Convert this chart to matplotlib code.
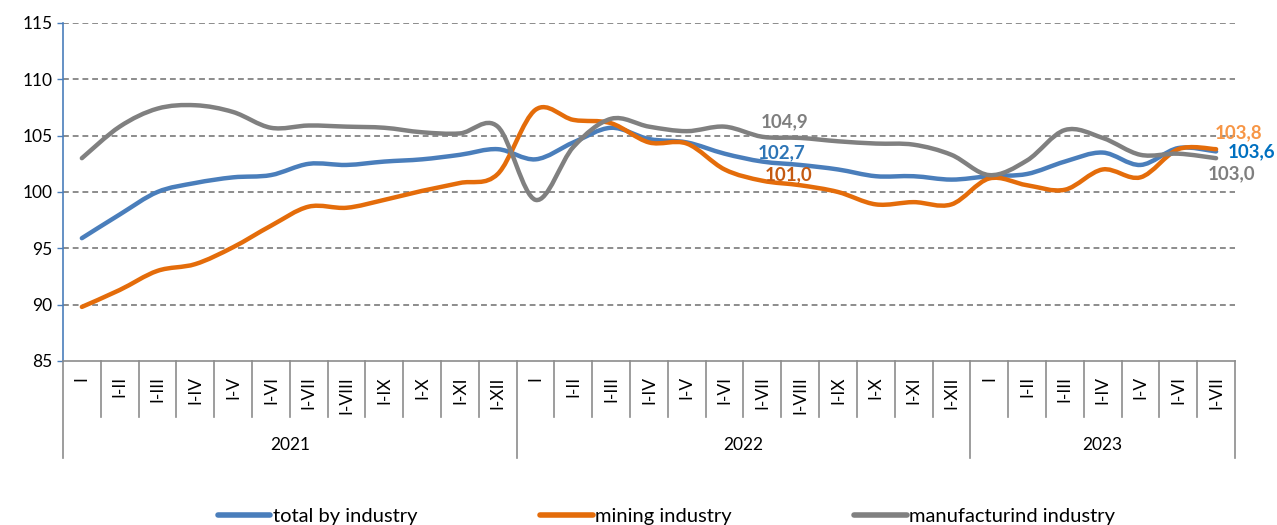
import numpy as np
import matplotlib.pyplot as plt
from matplotlib.path import Path
from matplotlib.patches import PathPatch
from matplotlib.lines import Line2D
import matplotlib.transforms as mtransforms

plt.rcParams['font.family'] = ['Lato', 'DejaVu Sans']

# DATA
months_2021 = ['I', 'I-II', 'I-III', 'I-IV', 'I-V', 'I-VI', 'I-VII', 'I-VIII', 'I-IX', 'I-X', 'I-XI', 'I-XII']
months_2022 = ['I', 'I-II', 'I-III', 'I-IV', 'I-V', 'I-VI', 'I-VII', 'I-VIII', 'I-IX', 'I-X', 'I-XI', 'I-XII']
months_2023 = ['I', 'I-II', 'I-III', 'I-IV', 'I-V', 'I-VI', 'I-VII']
years = ['2021', '2022', '2023']

total = [95.9, 98.0, 100.0, 100.8, 101.3, 101.5, 102.5, 102.4, 102.7, 102.9, 103.3, 103.8,
         102.9, 104.4, 105.7, 104.7, 104.4, 103.4, 102.7, 102.4, 102.0, 101.4, 101.4, 101.1,
         101.4, 101.6, 102.7, 103.5, 102.4, 103.9, 103.6]
mining = [89.8, 91.3, 93.0, 93.6, 95.1, 97.0, 98.7, 98.6, 99.3, 100.1, 100.8, 101.6,
          107.3, 106.4, 106.1, 104.4, 104.3, 102.0, 101.0, 100.6, 100.0, 98.9, 99.1, 98.9,
          101.2, 100.6, 100.2, 102.0, 101.3, 103.8, 103.8]
manuf = [103.0, 105.8, 107.4, 107.7, 107.1, 105.7, 105.9, 105.8, 105.7, 105.3, 105.2, 105.8,
         99.3, 104.0, 106.5, 105.8, 105.4, 105.8, 104.9, 104.8, 104.5, 104.3, 104.2, 103.3,
         101.5, 102.8, 105.5, 104.8, 103.3, 103.4, 103.0]

labels = months_2021 + months_2022 + months_2023
x = np.arange(len(labels))


# SMOOTH CURVE (EXCEL-LIKE BEZIER THROUGH THE POINTS)
def smooth_path(xs, ys):
    pts = np.column_stack([xs, ys]).astype(float)
    n = len(pts)
    verts = [pts[0]]
    codes = [Path.MOVETO]
    for i in range(n - 1):
        p0 = pts[i - 1] if i > 0 else pts[i]
        p1 = pts[i]
        p2 = pts[i + 1]
        p3 = pts[i + 2] if i + 2 < n else pts[i + 1]
        c1 = p1 + (p2 - p0) / 6.0
        c2 = p2 - (p3 - p1) / 6.0
        verts += [c1, c2, p2]
        codes += [Path.CURVE4] * 3
    return Path(verts, codes)


fig = plt.figure(figsize=(12.77, 5.25), dpi=100)
ax = fig.add_axes([0.0493, 0.3124, 0.9178, 0.6438])

c_total = '#4a7ebb'
c_mining = '#e46c0a'
c_manuf = '#808080'

for ys, col in [(total, c_total), (mining, c_mining), (manuf, c_manuf)]:
    ax.add_patch(PathPatch(smooth_path(x, ys), fill=False, edgecolor=col,
                           lw=3.2, capstyle='round', joinstyle='round', zorder=3))

ax.set_xlim(-0.5, len(labels) - 0.5)
ax.set_ylim(85, 115)
ax.set_yticks(np.arange(85, 116, 5))
for v in range(90, 116, 5):
    ax.axhline(v, color='#8c8c8c', lw=1.4, ls=(0, (3, 2)), zorder=1)

ax.tick_params(axis='y', labelsize=12.5, colors='#4a7ebb', length=4, width=1, labelcolor='black')
ax.set_xticks([])
for s in ['top', 'right']:
    ax.spines[s].set_visible(False)
ax.spines['left'].set_color('#4a7ebb')
ax.spines['left'].set_linewidth(1.2)
ax.spines['bottom'].set_color('#8c8c8c')
ax.spines['bottom'].set_linewidth(1.2)

# CATEGORY AXIS: MONTH + YEAR LEVELS
trans = mtransforms.blended_transform_factory(ax.transData, ax.transAxes)
month_drop = -0.166
year_drop = -0.287
year_bounds = [0, len(months_2021), len(months_2021) + len(months_2022), len(labels)]
for i in range(len(labels) + 1):
    b = i - 0.5
    bottom = year_drop if i in year_bounds else month_drop
    ax.plot([b, b], [0, bottom], transform=trans, color='#8c8c8c', lw=1.2, clip_on=False)
for i, lab in enumerate(labels):
    ax.text(i, -0.045, lab, transform=trans, rotation=90, ha='center', va='top', fontsize=12.5)
for k, yr in enumerate(years):
    mid = (year_bounds[k] + year_bounds[k + 1] - 1) / 2.0
    ax.text(mid, -0.25, yr, transform=trans, ha='center', va='center', fontsize=12.5)

# DATA LABELS
lab_fs = 13.5
ax.text(18.6, 104.9 + 1.3, '104,9', color='#7f7f7f', fontsize=lab_fs, fontweight='bold', ha='center', va='center')
ax.text(18.5, 102.7 + 0.75, '102,7', color='#2e75b6', fontsize=lab_fs, fontweight='bold', ha='center', va='center')
ax.text(18.7, 101.0 + 0.55, '101,0', color='#c55a11', fontsize=lab_fs, fontweight='bold', ha='center', va='center')
ax.text(30.6, 103.8 + 1.5, '103,8', color='#f79646', fontsize=lab_fs, fontweight='bold', ha='center', va='center', clip_on=False)
edge = mtransforms.blended_transform_factory(fig.transFigure, ax.transData)
ax.text(0.999, 103.6, '103,6', transform=edge, color='#0070c0', fontsize=lab_fs, fontweight='bold', ha='right', va='center', clip_on=False)
ax.text(30.4, 103.0 - 1.4, '103,0', color='#7f7f7f', fontsize=lab_fs, fontweight='bold', ha='center', va='center', clip_on=False)

handles = [Line2D([], [], color=c_total, lw=4, solid_capstyle='round'),
           Line2D([], [], color=c_mining, lw=4, solid_capstyle='round'),
           Line2D([], [], color=c_manuf, lw=4, solid_capstyle='round')]
fig.legend(handles, ['total by industry', 'mining industry', 'manufacturind industry'],
           loc='center', bbox_to_anchor=(0.522, 0.017), ncol=3, frameon=False,
           fontsize=14.5, handlelength=2.6, handletextpad=0.12, columnspacing=6.1)

fig.savefig('out.png', dpi=100)
